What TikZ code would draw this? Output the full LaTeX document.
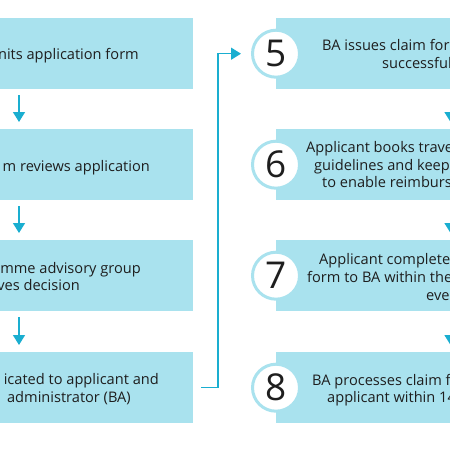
\documentclass[tikz,border=0pt]{standalone}
\usepackage{fontspec}
\setmainfont{Open Sans}
\usetikzlibrary{arrows.meta,calc}
\definecolor{boxc}{HTML}{A9E2EE}
\definecolor{arrc}{HTML}{1AAED0}
\definecolor{txt}{HTML}{1E1E1E}
\begin{document}
\begin{tikzpicture}[x=1pt,y=-1pt,
  lbox/.style={fill=boxc, inner sep=0, minimum height=71pt, minimum width=203pt, anchor=north west},
  rbox/.style={fill=boxc, inner sep=0, minimum height=71pt, minimum width=194pt, anchor=north west},
  num/.style={circle, draw=boxc, line width=3pt, fill=white, minimum size=47pt, inner sep=0, font=\fontsize{37}{37}\selectfont, text=txt},
  lbl/.style={font=\fontsize{14.6}{17}\selectfont, text=txt, inner sep=0},
  arr/.style={draw=arrc, line width=1.5pt, -{Triangle[width=12pt,length=10pt]}}]
\useasboundingbox (0,0) rectangle (450,450);
\clip (0,0) rectangle (450,450);
\node[lbox] (b1) at (-10,18) {};
\node[lbox] (b2) at (-10,129) {};
\node[lbox] (b3) at (-10,240) {};
\node[lbox] (b4) at (-10,352) {};
\node[rbox] (b5) at (276,18) {};
\node[rbox] (b6) at (276,129) {};
\node[rbox] (b7) at (276,240) {};
\node[rbox] (b8) at (276,352) {};
% left texts
\node[lbl, anchor=base east] (t1) at (139,59) {nits application form};
\node[lbl, anchor=base east] (t2) at (150,171) {m reviews application};
\node[lbl, anchor=base east] (t3a) at (141,273.3) {mme advisory group};
\node[lbl, anchor=base east] (t3b) at (80,290.7) {ves decision};
\node[lbl, anchor=base east] (t4a) at (159,384.3) {icated to applicant and};
\node[lbl, anchor=base east] (t4b) at (131,402.3) {administrator (BA)};
% right texts
\node[lbl, anchor=base west] (t5a) at (322,50.7) {BA issues claim form};
\node[lbl, anchor=base west] (t5b) at (382,68.3) {successful};
\node[lbl, anchor=base west] (t6a) at (306,152.7) {Applicant books travel};
\node[lbl, anchor=base west] (t6b) at (314,170) {guidelines and keeps};
\node[lbl, anchor=base west] (t6c) at (322,187.7) {to enable reimbursement};
\node[lbl, anchor=base west] (t7a) at (319,264.3) {Applicant completes};
\node[lbl, anchor=base west] (t7b) at (307,282.7) {form to BA within the};
\node[lbl, anchor=base west] (t7c) at (426,300) {event};
\node[lbl, anchor=base west] (t8a) at (312,385) {BA processes claim form};
\node[lbl, anchor=base west] (t8b) at (327,402.7) {applicant within 14};
% circles
\node[num] (c5) at (b5.west) {5};
\node[num] (c6) at (b6.west) {6};
\node[num] (c7) at (b7.west) {7};
\node[num] (c8) at (b8.west) {8};
% arrows
\draw[arr] ($(b1.south west)+(29,6)$) -- ($(b2.north west)+(29,-7)$);
\draw[arr] ($(b2.south west)+(29,6)$) -- ($(b3.north west)+(29,-7)$);
\draw[arr] ($(b3.south west)+(29,6)$) -- ($(b4.north west)+(29,-7)$);
\draw[arr] ($(b5.south west)+(174.5,6)$) -- ($(b6.north west)+(174.5,-7)$);
\draw[arr] ($(b6.south west)+(174.5,6)$) -- ($(b7.north west)+(174.5,-7)$);
\draw[arr] ($(b7.south west)+(174.5,6)$) -- ($(b8.north west)+(174.5,-7)$);
\draw[arr] ($(b4.east)+(8,0)$) -| ($(c5.west)+(-33,0)$) -- ($(c5.west)+(-10,0)$);
\end{tikzpicture}
\end{document}
